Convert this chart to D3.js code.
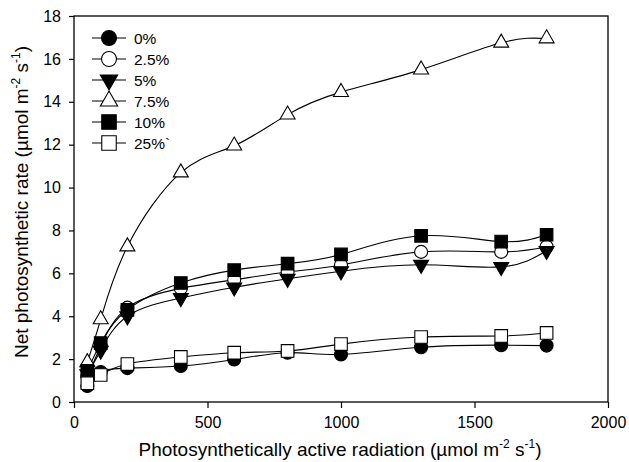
<!DOCTYPE html>
<html><head><meta charset="utf-8">
<script src="https://cdn.jsdelivr.net/npm/d3@7"></script>
<style>body{margin:0;background:#fff}svg{display:block}text{font-family:"Liberation Sans",Arial,sans-serif;fill:#000}</style>
</head><body>
<svg id="c" width="629" height="462"></svg>
<script>
const par = [50,100,200,400,600,800,1000,1300,1600,1770];
const s0   = [0.75,1.4,1.58,1.68,1.98,2.3,2.22,2.55,2.65,2.63];
const s2_5 = [1.2,2.6,4.4,5.3,5.7,6.06,6.39,7.0,7.0,7.24];
const s5   = [1.3,2.4,4.0,4.85,5.35,5.75,6.1,6.4,6.3,7.05];
const s7_5 = [1.85,3.85,7.25,10.7,11.95,13.4,14.45,15.5,16.75,16.95];
const s10  = [1.45,2.75,4.3,5.55,6.15,6.45,6.88,7.75,7.48,7.8];
const s25  = [0.88,1.26,1.77,2.1,2.3,2.38,2.7,3.03,3.08,3.22];
const seriesNames = ["0%","2.5%","5%","7.5%","10%","25%`"];
const xTicks = [0,500,1000,1500,2000];
const yTicks = [0,2,4,6,8,10,12,14,16,18];

const series = [
  {name:seriesNames[0], vals:s0,   shape:"circle",  fill:"#000"},
  {name:seriesNames[1], vals:s2_5, shape:"circle",  fill:"#fff"},
  {name:seriesNames[2], vals:s5,   shape:"tridown", fill:"#000"},
  {name:seriesNames[3], vals:s7_5, shape:"triup",   fill:"#fff"},
  {name:seriesNames[4], vals:s10,  shape:"square",  fill:"#000"},
  {name:seriesNames[5], vals:s25,  shape:"square",  fill:"#fff"}
];

const L=74, R=608, T=16, B=402;
const svg = d3.select("#c");
const x = d3.scaleLinear().domain([0,2000]).range([L,R]);
const y = d3.scaleLinear().domain([0,18]).range([B,T]);

function shapePath(shape, k){
  k = k||1;
  if(shape==="circle"){ const r=6.5*k; return `M${r},0A${r},${r} 0 1,1 ${-r},0A${r},${r} 0 1,1 ${r},0Z`; }
  if(shape==="square"){ const h=6.3*k; return `M${-h},${-h}H${h}V${h}H${-h}Z`; }
  if(shape==="triup"){ const w=7.5*k, h=13*k; return `M0,${-h*2/3}L${w},${h/3}L${-w},${h/3}Z`; }
  if(shape==="tridown"){ const w=7.5*k, h=13*k; return `M0,${h*2/3}L${w},${-h/3}L${-w},${-h/3}Z`; }
}

// frame
svg.append("rect").attr("x",L).attr("y",T).attr("width",R-L).attr("height",B-T)
  .attr("fill","none").attr("stroke","#000").attr("stroke-width",1.3);

const xa = svg.append("g").attr("transform",`translate(0,${B})`)
  .call(d3.axisBottom(x).tickValues(xTicks).tickSize(6).tickPadding(9).tickFormat(d3.format("d")));
const ya = svg.append("g").attr("transform",`translate(${L},0)`)
  .call(d3.axisLeft(y).tickValues(yTicks).tickSize(5).tickPadding(8).tickFormat(d3.format("d")));
[xa,ya].forEach(a=>{
  a.select(".domain").remove();
  a.selectAll("line").attr("stroke","#000").attr("stroke-width",1.2);
  a.selectAll("text").style("font-family",'"Liberation Sans",Arial,sans-serif').style("font-size","16px").attr("fill","#000");
});

const line = d3.line().x((d,i)=>x(par[i])).y(d=>y(d)).curve(d3.curveNatural);
const g = svg.append("g");
series.forEach(s=>{
  g.append("path").attr("d",line(s.vals)).attr("fill","none").attr("stroke","#000").attr("stroke-width",1.1);
});
series.forEach(s=>{
  g.selectAll(null).data(s.vals).enter().append("path")
    .attr("transform",(d,i)=>`translate(${x(par[i])},${y(d)})`)
    .attr("d",shapePath(s.shape)).attr("fill",s.fill).attr("stroke","#000").attr("stroke-width",1.1);
});

// legend
const lg = svg.append("g");
series.forEach((s,i)=>{
  const yy = 38 + i*21;
  lg.append("line").attr("x1",92).attr("x2",126).attr("y1",yy).attr("y2",yy).attr("stroke","#000").attr("stroke-width",1.1);
  lg.append("path").attr("transform",`translate(109,${yy})`).attr("d",shapePath(s.shape,1.15))
    .attr("fill",s.fill).attr("stroke","#000").attr("stroke-width",1.1);
  lg.append("text").attr("x",134).attr("y",yy+5.5).style("font-size","15.5px").text(s.name);
});

// axis titles
const xt = svg.append("text").attr("x",340).attr("y",456).attr("text-anchor","middle").style("font-size","19px");
xt.append("tspan").text("Photosynthetically active radiation (\u00b5mol m");
xt.append("tspan").attr("dy",-8).style("font-size","12px").text("-2");
xt.append("tspan").attr("dy",8).text(" s");
xt.append("tspan").attr("dy",-8).style("font-size","12px").text("-1");
xt.append("tspan").attr("dy",8).text(")");

const yt = svg.append("text").attr("transform","translate(28,202) rotate(-90)").attr("text-anchor","middle").style("font-size","19px");
yt.append("tspan").text("Net photosynthetic rate (\u00b5mol m");
yt.append("tspan").attr("dy",-8).style("font-size","12px").text("-2");
yt.append("tspan").attr("dy",8).text(" s");
yt.append("tspan").attr("dy",-8).style("font-size","12px").text("-1");
yt.append("tspan").attr("dy",8).text(")");
</script>
</body></html>
